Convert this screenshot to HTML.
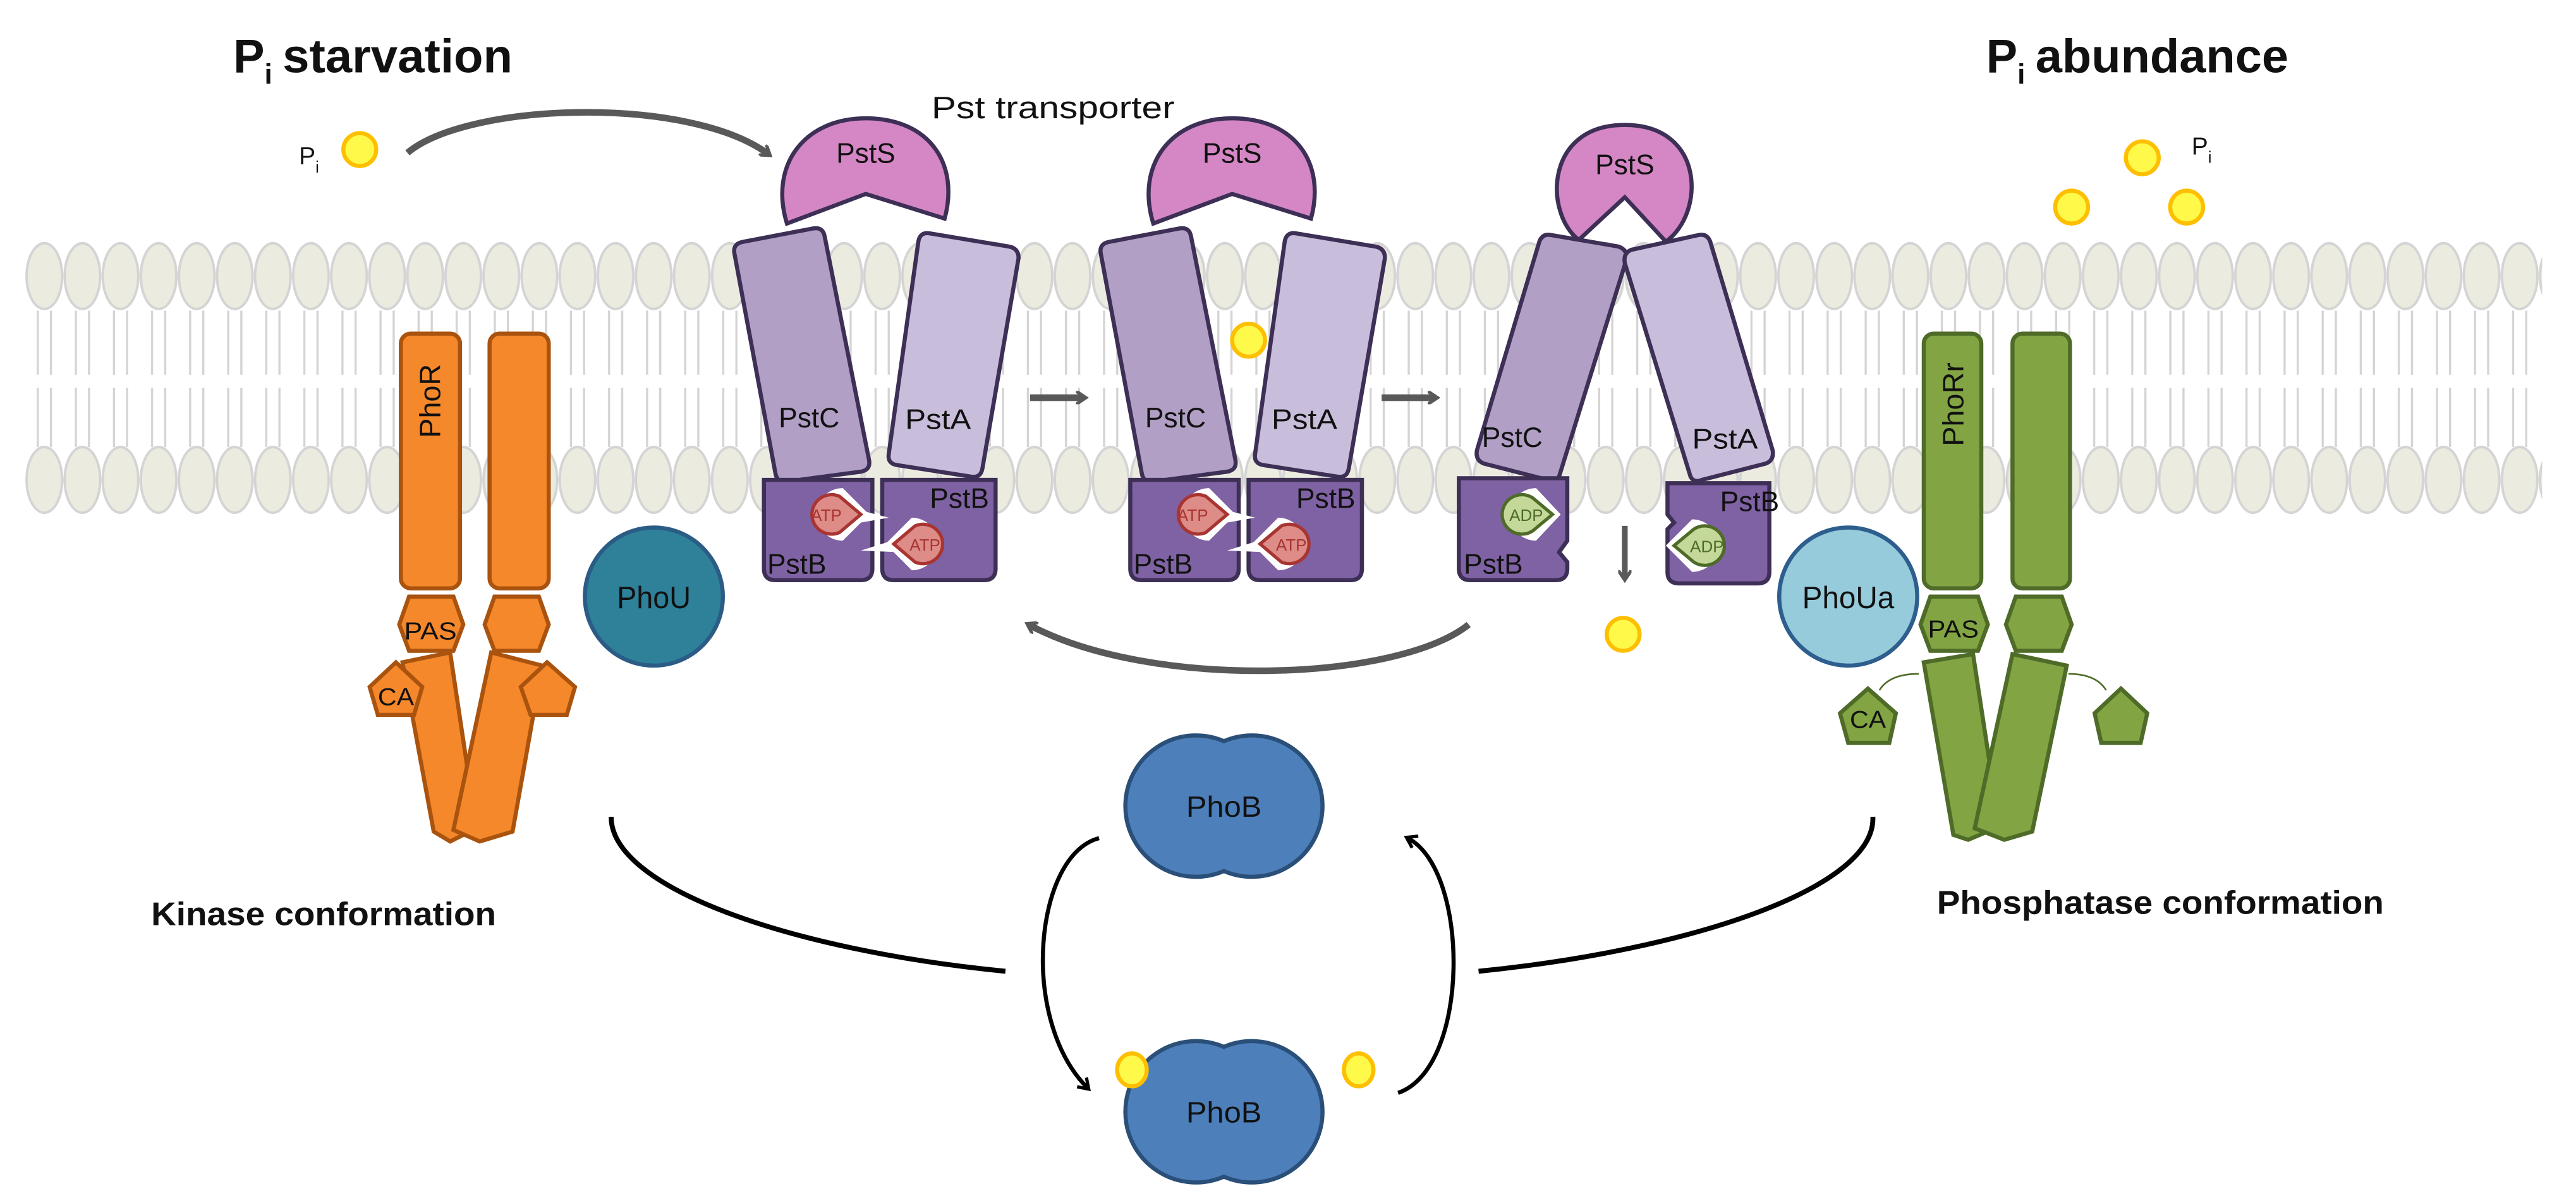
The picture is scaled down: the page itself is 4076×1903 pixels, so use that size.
<!DOCTYPE html>
<html><head><meta charset="utf-8"><style>
html,body{margin:0;padding:0;background:#fff;}
svg{display:block;}
text{font-family:"Liberation Sans",sans-serif;fill:#111;}
</style></head><body>
<svg width="4076" height="1903" viewBox="0 0 1568 732" preserveAspectRatio="none" xmlns="http://www.w3.org/2000/svg">
<defs>
<pattern id="mem" patternUnits="userSpaceOnUse" x="15.41" y="0" width="23.18" height="732">
<line x1="7.6" y1="189" x2="7.6" y2="228" stroke="#d4d4d4" stroke-width="1.3"/>
<line x1="15.6" y1="189" x2="15.6" y2="228" stroke="#d4d4d4" stroke-width="1.3"/>
<line x1="7.6" y1="236" x2="7.6" y2="272" stroke="#d4d4d4" stroke-width="1.3"/>
<line x1="15.6" y1="236" x2="15.6" y2="272" stroke="#d4d4d4" stroke-width="1.3"/>
<ellipse cx="11.59" cy="168" rx="10.8" ry="20" fill="#ecebe0" stroke="#d4d4d4" stroke-width="1.5"/>
<ellipse cx="11.59" cy="292" rx="10.8" ry="20" fill="#ecebe0" stroke="#d4d4d4" stroke-width="1.5"/>
</pattern>
<marker id="ag" markerWidth="8" markerHeight="8" refX="5" refY="4" orient="auto" markerUnits="userSpaceOnUse" viewBox="0 0 8 8"><path d="M0,0 L6,4 L0,8" fill="none" stroke="#595959" stroke-width="2"/></marker>
<marker id="ab" markerWidth="10" markerHeight="10" refX="6" refY="5" orient="auto" markerUnits="userSpaceOnUse" viewBox="0 0 10 10"><path d="M1,1 L7,5 L1,9" fill="none" stroke="#000" stroke-width="2"/></marker>
</defs>

<rect x="15.4" y="140" width="1532" height="180" fill="url(#mem)"/>

<text x="142" y="44" font-size="29" font-weight="bold" textLength="19" lengthAdjust="spacingAndGlyphs">P</text>
<text x="161" y="51" font-size="17" font-weight="bold">i</text>
<text x="172" y="44" font-size="29" font-weight="bold" textLength="140" lengthAdjust="spacingAndGlyphs">starvation</text>
<text x="1209" y="44" font-size="29" font-weight="bold" textLength="19" lengthAdjust="spacingAndGlyphs">P</text>
<text x="1228" y="51" font-size="17" font-weight="bold">i</text>
<text x="1239" y="44" font-size="29" font-weight="bold" textLength="154" lengthAdjust="spacingAndGlyphs">abundance</text>

<text x="182" y="100" font-size="15" textLength="10" lengthAdjust="spacingAndGlyphs">P</text>
<text x="192" y="105" font-size="10">i</text>
<ellipse cx="219" cy="91" rx="10" ry="10" fill="#fff94a" stroke="#fdbf00" stroke-width="2.5"/>
<path d="M248,93 C285,62 420,58 468,94" fill="none" stroke="#595959" stroke-width="4" marker-end="url(#ag)"/>
<text x="567" y="72" font-size="19" textLength="148" lengthAdjust="spacingAndGlyphs">Pst transporter</text>

<ellipse cx="1304" cy="96" rx="10" ry="10" fill="#fff94a" stroke="#fdbf00" stroke-width="2.5"/>
<ellipse cx="1261" cy="126" rx="10" ry="10" fill="#fff94a" stroke="#fdbf00" stroke-width="2.5"/>
<ellipse cx="1331" cy="126" rx="10" ry="10" fill="#fff94a" stroke="#fdbf00" stroke-width="2.5"/>
<text x="1334" y="94" font-size="15" textLength="10" lengthAdjust="spacingAndGlyphs">P</text>
<text x="1344" y="99" font-size="10">i</text>

<g stroke="#a9530f" stroke-width="2.5" fill="#f5882a">
<rect x="244" y="203" width="36" height="155" rx="6"/>
<rect x="298" y="203" width="36" height="155" rx="6"/>
<polygon points="249,363 276,363 282,380 276,396 249,396 243,380"/>
<polygon points="301,363 328,363 334,380 328,396 301,396 295,380"/>
<polygon points="245,403 274,397 290,504 274,512 264,506"/>
<polygon points="299,397 330,405 312,506 292,512 276,505"/>
<polygon points="241,403 257,418 252,435 230,435 225,418"/>
<polygon points="333,403 350,418 345,435 323,435 317,418"/>
</g>
<text transform="translate(268,244) rotate(-90)" font-size="18" text-anchor="middle">PhoR</text>
<text x="262" y="389" font-size="15" text-anchor="middle" textLength="32" lengthAdjust="spacingAndGlyphs">PAS</text>
<text x="241" y="429" font-size="15" text-anchor="middle" textLength="22" lengthAdjust="spacingAndGlyphs">CA</text>

<circle cx="398" cy="363" r="42" fill="#2e8199" stroke="#2b5c86" stroke-width="2.5"/>
<text x="398" y="370" font-size="19" text-anchor="middle" textLength="45" lengthAdjust="spacingAndGlyphs">PhoU</text>

<g id="c1">
<path d="M479,136 C468,100 490,72 527,72 C566,72 584,100 575,133 L527,118 Z" fill="#d487c4" stroke="#3d2f55" stroke-width="2.5"/>
<path d="M453,147 L495,139 Q501,138 502,144 L529,280 Q530,286 524,287 L479,293 Q473,294 472,288 L447,154 Q446,148 453,147 Z" fill="#b19fc6" stroke="#3d2f55" stroke-width="2.5"/>
<path d="M566,142 L614,150 Q620,151 620,157 L598,285 Q597,291 591,290 L546,283 Q540,282 541,276 L559,147 Q560,141 566,142 Z" fill="#c8bdda" stroke="#3d2f55" stroke-width="2.5"/>
<text x="474" y="260" font-size="17" textLength="37" lengthAdjust="spacingAndGlyphs">PstC</text>
<text x="551" y="261" font-size="17" textLength="40" lengthAdjust="spacingAndGlyphs">PstA</text>
<text x="509" y="99" font-size="17" textLength="36" lengthAdjust="spacingAndGlyphs">PstS</text>
<path d="M465,292 L531,292 L531,346 Q531,353 524,353 L472,353 Q465,353 465,346 Z" fill="#7f62a3" stroke="#3d2f55" stroke-width="2.5"/>
<path d="M537,292 L606,292 L606,346 Q606,353 599,353 L544,353 Q537,353 537,346 Z" fill="#7f62a3" stroke="#3d2f55" stroke-width="2.5"/>
<path d="M529,313 L513,297 A16,16 0 1 0 513,329 Z" fill="#fff"/>
<path d="M521,313 L518,309 L541,315 L518,319 Z" fill="#fff"/>
<path d="M524,313 L511,302 A12,12 0 1 0 511,324 Z" fill="#dd8c87" stroke="#a83532" stroke-width="2"/>
<text x="503" y="317" font-size="10" text-anchor="middle" style="fill:#a83532">ATP</text>
<path d="M539,331 L555,315 A16,16 0 1 1 555,347 Z" fill="#fff"/>
<path d="M546,328 L524,335 L547,336 Z" fill="#fff"/>
<path d="M544,331 L557,320 A12,12 0 1 1 557,342 Z" fill="#dd8c87" stroke="#a83532" stroke-width="2"/>
<text x="563" y="335" font-size="10" text-anchor="middle" style="fill:#a83532">ATP</text>
<text x="467" y="349" font-size="17" textLength="36" lengthAdjust="spacingAndGlyphs">PstB</text>
<text x="566" y="309" font-size="17" textLength="36" lengthAdjust="spacingAndGlyphs">PstB</text>
</g>
<use href="#c1" transform="translate(223,0)"/>
<ellipse cx="760" cy="207" rx="10" ry="10" fill="#fff94a" stroke="#fdbf00" stroke-width="2.5"/>

<path d="M627,242 L660,242" stroke="#595959" stroke-width="4" marker-end="url(#ag)"/>
<path d="M841,242 L874,242" stroke="#595959" stroke-width="4" marker-end="url(#ag)"/>

<path d="M961,146 C940,130 940,76 989,76 C1038,76 1038,130 1014,147 L989,120 Z" fill="#d487c4" stroke="#3d2f55" stroke-width="2.5"/>
<path d="M944,143 L985,150 Q991,152 990,158 L949,290 Q947,294 942,292 L903,282 Q898,280 899,274 L937,147 Q939,142 944,143 Z" fill="#b19fc6" stroke="#3d2f55" stroke-width="2.5"/>
<path d="M1034,143 L993,152 Q988,154 989,160 L1029,290 Q1031,294 1036,292 L1075,282 Q1080,280 1079,274 L1041,147 Q1039,142 1034,143 Z" fill="#c8bdda" stroke="#3d2f55" stroke-width="2.5"/>
<text x="902" y="272" font-size="17" textLength="37" lengthAdjust="spacingAndGlyphs">PstC</text>
<text x="1030" y="273" font-size="17" textLength="40" lengthAdjust="spacingAndGlyphs">PstA</text>
<text x="971" y="106" font-size="17" textLength="36" lengthAdjust="spacingAndGlyphs">PstS</text>
<path d="M888,291 L954,291 L954,329 L949,336 L954,342 L954,346 Q954,353 947,353 L895,353 Q888,353 888,346 Z" fill="#7f62a3" stroke="#3d2f55" stroke-width="2.5"/>
<path d="M1015,294 L1077,294 L1077,348 Q1077,355 1070,355 L1022,355 Q1015,355 1015,348 L1015,322 L1019,318 L1015,313 Z" fill="#7f62a3" stroke="#3d2f55" stroke-width="2.5"/>
<path d="M950,313 L935,297 A16,16 0 1 0 935,329 Z" fill="#fff"/>
<path d="M945,313 L933,303 A12,12 0 1 0 933,323 Z" fill="#c4d89a" stroke="#4f6b28" stroke-width="2"/>
<text x="929" y="317" font-size="10" text-anchor="middle" style="fill:#4f6b28">ADP</text>
<path d="M1014,332 L1030,316 A16,16 0 1 1 1030,348 Z" fill="#fff"/>
<path d="M1019,332 L1031,322 A12,12 0 1 1 1031,342 Z" fill="#c4d89a" stroke="#4f6b28" stroke-width="2"/>
<text x="1039" y="336" font-size="10" text-anchor="middle" style="fill:#4f6b28">ADP</text>
<text x="891" y="349" font-size="17" textLength="36" lengthAdjust="spacingAndGlyphs">PstB</text>
<text x="1047" y="311" font-size="17" textLength="36" lengthAdjust="spacingAndGlyphs">PstB</text>
<path d="M989,320 L989,352" stroke="#595959" stroke-width="3.5" marker-end="url(#ag)"/>
<ellipse cx="988" cy="386" rx="10" ry="10" fill="#fff94a" stroke="#fdbf00" stroke-width="2.5"/>

<path d="M894,380 C850,415 700,420 626,380" fill="none" stroke="#595959" stroke-width="4" marker-end="url(#ag)"/>

<circle cx="1125" cy="363" r="42" fill="#96cbdc" stroke="#2e5e8e" stroke-width="2.5"/>
<text x="1125" y="370" font-size="19" text-anchor="middle" textLength="56" lengthAdjust="spacingAndGlyphs">PhoUa</text>

<path d="M1144,420 Q1150,410 1168,410" fill="none" stroke="#4f6b28" stroke-width="1"/>
<path d="M1259,410 Q1276,410 1282,420" fill="none" stroke="#4f6b28" stroke-width="1"/>
<g stroke="#4f6b28" stroke-width="2.5" fill="#82a443">
<rect x="1171" y="203" width="35" height="155" rx="6"/>
<rect x="1225" y="203" width="35" height="155" rx="6"/>
<polygon points="1175,363 1204,363 1210,380 1204,396 1175,396 1169,380"/>
<polygon points="1227,363 1255,363 1261,380 1255,396 1227,396 1221,380"/>
<polygon points="1171,403 1201,398 1217,503 1198,511 1189,508"/>
<polygon points="1225,398 1258,405 1237,506 1220,511 1202,504"/>
<polygon points="1137,419 1154,434 1150,452 1125,452 1120,434"/>
<polygon points="1291,419 1307,434 1303,452 1279,452 1275,434"/>
</g>
<text transform="translate(1195,246) rotate(-90)" font-size="18" text-anchor="middle">PhoRr</text>
<text x="1189" y="388" font-size="15" text-anchor="middle" textLength="31" lengthAdjust="spacingAndGlyphs">PAS</text>
<text x="1137" y="443" font-size="15" text-anchor="middle" textLength="22" lengthAdjust="spacingAndGlyphs">CA</text>

<text x="92" y="563" font-size="20" font-weight="bold" textLength="210" lengthAdjust="spacingAndGlyphs">Kinase conformation</text>
<text x="1179" y="556" font-size="20" font-weight="bold" textLength="272" lengthAdjust="spacingAndGlyphs">Phosphatase conformation</text>

<path d="M372,497 C372,540 480,578 612,591" fill="none" stroke="#000" stroke-width="3"/>
<path d="M1140,497 C1142,540 1030,578 900,591" fill="none" stroke="#000" stroke-width="3"/>
<path d="M669,510 C630,520 620,620 662,662" fill="none" stroke="#000" stroke-width="2.5" marker-end="url(#ab)"/>
<path d="M851,665 C895,650 895,530 857,510" fill="none" stroke="#000" stroke-width="2.5" marker-end="url(#ab)"/>

<g fill="#4d7fba" stroke="#2a4f78" stroke-width="2.5">
<path d="M745,451 A43,43 0 1 0 745,530 A43,43 0 1 0 745,451 Z"/>
<path d="M745,637 A43,43 0 1 0 745,716 A43,43 0 1 0 745,637 Z"/>
</g>
<text x="745" y="497" font-size="18" text-anchor="middle" textLength="46" lengthAdjust="spacingAndGlyphs">PhoB</text>
<text x="745" y="683" font-size="18" text-anchor="middle" textLength="46" lengthAdjust="spacingAndGlyphs">PhoB</text>
<ellipse cx="689" cy="651" rx="9" ry="10" fill="#fff94a" stroke="#fdbf00" stroke-width="2.5"/>
<ellipse cx="827" cy="651" rx="9" ry="10" fill="#fff94a" stroke="#fdbf00" stroke-width="2.5"/>
</svg>
</body></html>
